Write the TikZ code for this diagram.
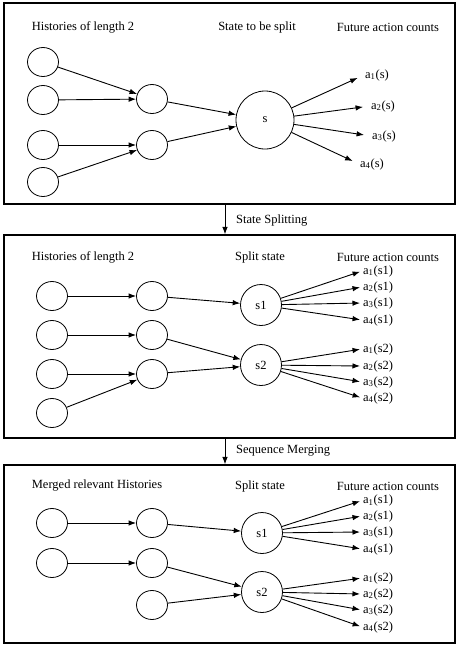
\documentclass[tikz,border=0pt]{standalone}
\usepackage{fontspec}
\setmainfont{Liberation Serif}
\usetikzlibrary{arrows.meta,shapes.geometric}
\begin{document}
\begin{tikzpicture}[x=1pt,y=-1pt,
  every node/.style={font=\fontsize{12.5}{14}\selectfont},
  panel/.style={draw, line width=1.2pt, minimum width=451pt, inner sep=0pt},
  hist/.style={draw, line width=0.8pt, ellipse, minimum width=31pt, minimum height=29pt, inner sep=0pt},
  state/.style={draw, circle, line width=0.8pt, minimum size=41pt, inner sep=0pt},
  bigstate/.style={draw, circle, line width=0.8pt, minimum size=58pt, inner sep=0pt},
  arr/.style={line width=0.9pt, -{Latex[length=7.5pt,width=5.5pt]}},
  lab/.style={anchor=west, inner sep=1pt},
  head/.style={inner sep=0pt}
]
\useasboundingbox (0,0) rectangle (461,649);
% panels
\node[panel, minimum height=201pt] (P1) at (229.5,103.5) {};
\node[panel, minimum height=203pt] (P2) at (229.5,336.5) {};
\node[panel, minimum height=178pt] (P3) at (229.5,554) {};
\draw[arr] ([xshift=-4.5pt]P1.south) -- ([xshift=-4.5pt]P2.north);
\draw[arr] ([xshift=-4.5pt]P2.south) -- ([xshift=-4.5pt]P3.north);
\node[lab] (t1) at (235,221) {State Splitting};
\node[lab] (t2) at (235,451) {Sequence Merging};

% ---------- panel 1 ----------
\node[head] (h11) at (83,27) {Histories of length 2};
\node[head] (h12) at (257,27) {State to be split};
\node[head] (h13) at (388,27) {Future action counts};
\node[hist] (a1) at (43,62) {};
\node[hist] (a2) at (43,100) {};
\node[hist] (a3) at (43,145) {};
\node[hist] (a4) at (43,182) {};
\node[hist] (b1) at (152,99) {};
\node[hist] (b2) at (152,145) {};
\node[bigstate] (s) at (265,120) {s};
\node[lab] (f1) at (364,75) {a\textsubscript{1}(s)};
\node[lab] (f2) at (370,106) {a\textsubscript{2}(s)};
\node[lab] (f3) at (371,136) {a\textsubscript{3}(s)};
\node[lab] (f4) at (359,164) {a\textsubscript{4}(s)};
\draw[arr] (a1) -- (b1);
\draw[arr] (a2) -- (b1);
\draw[arr] (a3) -- (b2);
\draw[arr] (a4) -- (b2);
\draw[arr] (b1) -- (s);
\draw[arr] (b2) -- (s);
\foreach \i in {1,...,4} \draw[arr, shorten >=7pt] (s) -- (f\i.west);

% ---------- panel 2 ----------
\node[head] (h21) at (83,257) {Histories of length 2};
\node[head] (h22) at (260,257) {Split state};
\node[head] (h23) at (388,257) {Future action counts};
\node[hist] (c1) at (52,296) {};
\node[hist] (c2) at (52,335) {};
\node[hist] (c3) at (52,374) {};
\node[hist] (c4) at (52,413) {};
\node[hist] (d1) at (152,296) {};
\node[hist] (d2) at (152,335) {};
\node[hist] (d3) at (152,374) {};
\node[state] (s21) at (261,305) {s1};
\node[state] (s22) at (261,365) {s2};
\node[lab] (g1) at (362,271) {a\textsubscript{1}(s1)};
\node[lab] (g2) at (362,287) {a\textsubscript{2}(s1)};
\node[lab] (g3) at (362,303) {a\textsubscript{3}(s1)};
\node[lab] (g4) at (362,320) {a\textsubscript{4}(s1)};
\node[lab] (g5) at (362,349) {a\textsubscript{1}(s2)};
\node[lab] (g6) at (362,366) {a\textsubscript{2}(s2)};
\node[lab] (g7) at (362,382) {a\textsubscript{3}(s2)};
\node[lab] (g8) at (362,398) {a\textsubscript{4}(s2)};
\draw[arr] (c1) -- (d1);
\draw[arr] (c2) -- (d2);
\draw[arr] (c3) -- (d3);
\draw[arr] (c4) -- (d3);
\draw[arr] (d1) -- (s21);
\draw[arr] (d2) -- (s22);
\draw[arr] (d3) -- (s22);
\foreach \i in {1,...,4} \draw[arr, shorten >=2pt] (s21) -- (g\i.west);
\foreach \i in {5,...,8} \draw[arr, shorten >=2pt] (s22) -- (g\i.west);

% ---------- panel 3 ----------
\node[head] (h31) at (97,486) {Merged relevant Histories};
\node[head] (h32) at (260,486) {Split state};
\node[head] (h33) at (388,486) {Future action counts};
\node[hist] (e1) at (52,523) {};
\node[hist] (e2) at (52,563) {};
\node[hist] (k1) at (152,523) {};
\node[hist] (k2) at (152,563) {};
\node[hist] (k3) at (152,605) {};
\node[state] (s31) at (262,533) {s1};
\node[state] (s32) at (262,592) {s2};
\node[lab] (m1) at (362,500.5) {a\textsubscript{1}(s1)};
\node[lab] (m2) at (362,516) {a\textsubscript{2}(s1)};
\node[lab] (m3) at (362,532) {a\textsubscript{3}(s1)};
\node[lab] (m4) at (362,549) {a\textsubscript{4}(s1)};
\node[lab] (m5) at (362,578) {a\textsubscript{1}(s2)};
\node[lab] (m6) at (362,594) {a\textsubscript{2}(s2)};
\node[lab] (m7) at (362,610) {a\textsubscript{3}(s2)};
\node[lab] (m8) at (362,627) {a\textsubscript{4}(s2)};
\draw[arr] (e1) -- (k1);
\draw[arr] (e2) -- (k2);
\draw[arr] (k1) -- (s31);
\draw[arr] (k2) -- (s32);
\draw[arr] (k3) -- (s32);
\foreach \i in {1,...,4} \draw[arr, shorten >=2pt] (s31) -- (m\i.west);
\foreach \i in {5,...,8} \draw[arr, shorten >=2pt] (s32) -- (m\i.west);
\end{tikzpicture}
\end{document}
